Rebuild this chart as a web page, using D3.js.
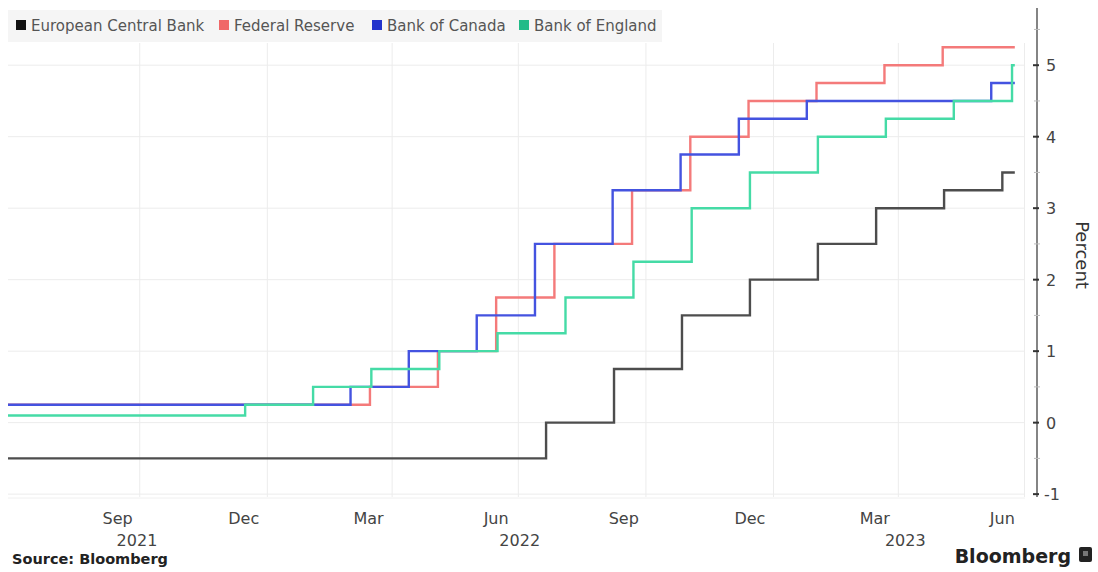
<!DOCTYPE html>
<html>
<head>
<meta charset="utf-8">
<script src="https://cdn.jsdelivr.net/npm/d3@7"></script>
<style>
  body { margin: 0; background: #fff; }
  svg text { font-family: "DejaVu Sans", sans-serif; }
</style>
</head>
<body>
<div class="main"></div>
<script>
//// Data (policy rates, percent) - dates of decisions and the new level
const endDate = '2023-06-24';
const ecbDates = ['2021-06-28', '2022-07-21', '2022-09-08', '2022-10-27', '2022-12-15', '2023-02-02', '2023-03-16', '2023-05-04', '2023-06-15', endDate];
const ecbRates = [-0.5, 0, 0.75, 1.5, 2.0, 2.5, 3.0, 3.25, 3.5, 3.5];
const fedDates = ['2021-06-28', '2022-03-16', '2022-05-04', '2022-06-15', '2022-07-27', '2022-09-21', '2022-11-02', '2022-12-14', '2023-02-01', '2023-03-22', '2023-05-03', endDate];
const fedRates = [0.25, 0.5, 1.0, 1.75, 2.5, 3.25, 4.0, 4.5, 4.75, 5.0, 5.25, 5.25];
const bocDates = ['2021-06-28', '2022-03-02', '2022-04-13', '2022-06-01', '2022-07-13', '2022-09-07', '2022-10-26', '2022-12-07', '2023-01-25', '2023-06-07', endDate];
const bocRates = [0.25, 0.5, 1.0, 1.5, 2.5, 3.25, 3.75, 4.25, 4.5, 4.75, 4.75];
const boeDates = ['2021-06-28', '2021-12-16', '2022-02-03', '2022-03-17', '2022-05-05', '2022-06-16', '2022-08-04', '2022-09-22', '2022-11-03', '2022-12-15', '2023-02-02', '2023-03-23', '2023-05-11', '2023-06-22', endDate];
const boeRates = [0.1, 0.25, 0.5, 0.75, 1.0, 1.25, 1.75, 2.25, 3.0, 3.5, 4.0, 4.25, 4.5, 5.0, 5.0];

const seriesNames = ['European Central Bank', 'Federal Reserve', 'Bank of Canada', 'Bank of England'];
const lineColors = ['#4d4d4d', '#f47a7a', '#4453e0', '#45dba6'];
const keyColors = ['#111111', '#f06868', '#2233cc', '#22bb88'];

const monthTicks = ['2021-09-15', '2021-12-15', '2022-03-15', '2022-06-15', '2022-09-15', '2022-12-15', '2023-03-15', '2023-06-15'];
const monthLabels = ['Sep', 'Dec', 'Mar', 'Jun', 'Sep', 'Dec', 'Mar', 'Jun'];
const yearTicks = ['2021-09-29', '2022-07-02', '2023-04-06'];
const yearLabels = ['2021', '2022', '2023'];
const gridDates = ['2021-10-01', '2022-01-01', '2022-04-01', '2022-07-01', '2022-10-01', '2023-01-01', '2023-04-01', '2023-07-01'];
const yTicks = [-1, 0, 1, 2, 3, 4, 5];
const yMinor = [-0.5, 0.5, 1.5, 2.5, 3.5, 4.5, 5.5];

////Globals
const width = 1098;
const height = 572;
const parse = d3.timeParse('%Y-%m-%d');
const plotLeft = 8;
const plotRight = 1037;
const plotTop = 8;
const plotBottom = 497;

const svg = d3.select('.main').append('svg')
  .attr('width', width)
  .attr('height', height);

const x = d3.scaleTime()
  .domain([parse('2021-06-28'), parse('2023-07-10')])
  .range([plotLeft, plotRight]);
const y = d3.scaleLinear()
  .domain([-1.04, 5.8])
  .range([plotBottom, plotTop]);

// gridlines
svg.append('g')
  .selectAll('line')
  .data(yTicks)
  .enter()
  .append('line')
  .attr('x1', plotLeft)
  .attr('x2', plotRight - 12)
  .attr('y1', d => y(d))
  .attr('y2', d => y(d))
  .attr('stroke', '#ececec')
  .attr('stroke-width', 1);

svg.append('g')
  .selectAll('line')
  .data(gridDates)
  .enter()
  .append('line')
  .attr('x1', d => x(parse(d)))
  .attr('x2', d => x(parse(d)))
  .attr('y1', plotTop + 35)
  .attr('y2', plotBottom)
  .attr('stroke', '#ececec')
  .attr('stroke-width', 1);

svg.append('line')
  .attr('x1', plotLeft)
  .attr('x2', plotRight - 12)
  .attr('y1', plotBottom + 1)
  .attr('y2', plotBottom + 1)
  .attr('stroke', '#f0f0f0');

// legend band
svg.append('rect')
  .attr('x', plotLeft)
  .attr('y', 10)
  .attr('width', 654)
  .attr('height', 32)
  .attr('fill', '#f5f5f5');

// lines
const allDates = [ecbDates, fedDates, bocDates, boeDates];
const allRates = [ecbRates, fedRates, bocRates, boeRates];
const line = d3.line()
  .x(d => x(d.date))
  .y(d => y(d.value))
  .curve(d3.curveStepAfter);

allDates.forEach((dates, i) => {
  const pts = dates.map((dt, j) => ({ date: parse(dt), value: allRates[i][j] }));
  svg.append('path')
    .datum(pts)
    .attr('fill', 'none')
    .attr('stroke', lineColors[i])
    .attr('stroke-width', 2.4)
    .attr('d', line);
});

// legend
const legendX = [16, 219, 372, 519];
const legend = svg.append('g');
seriesNames.forEach((name, i) => {
  legend.append('rect')
    .attr('x', legendX[i])
    .attr('y', 20)
    .attr('width', 10)
    .attr('height', 10)
    .attr('fill', keyColors[i]);
  legend.append('text')
    .attr('x', legendX[i] + 15)
    .attr('y', 30.5)
    .attr('font-size', 15)
    .attr('fill', '#555')
    .text(name);
});

// right axis
svg.append('line')
  .attr('x1', plotRight)
  .attr('x2', plotRight)
  .attr('y1', plotTop)
  .attr('y2', plotBottom)
  .attr('stroke', '#666')
  .attr('stroke-width', 1.6);

svg.append('g')
  .selectAll('line')
  .data(yMinor)
  .enter()
  .append('line')
  .attr('x1', plotRight - 3)
  .attr('x2', plotRight + 3)
  .attr('y1', d => y(d))
  .attr('y2', d => y(d))
  .attr('stroke', '#bbb');

const yAxis = svg.append('g');
yAxis.selectAll('line')
  .data(yTicks)
  .enter()
  .append('line')
  .attr('x1', plotRight - 4)
  .attr('x2', plotRight + 2)
  .attr('y1', d => y(d))
  .attr('y2', d => y(d))
  .attr('stroke', '#333')
  .attr('stroke-width', 2);
yAxis.selectAll('text')
  .data(yTicks)
  .enter()
  .append('text')
  .attr('x', d => d < 0 ? plotRight + 7 : plotRight + 9)
  .attr('y', d => y(d) + 6)
  .attr('font-size', 16)
  .attr('fill', '#444')
  .text(d => d);

svg.append('text')
  .attr('transform', 'translate(1076,255) rotate(90)')
  .attr('text-anchor', 'middle')
  .attr('font-size', 18)
  .attr('fill', '#333')
  .text('Percent');

// bottom axis labels
svg.append('g')
  .selectAll('text')
  .data(monthTicks)
  .enter()
  .append('text')
  .attr('x', d => x(parse(d)))
  .attr('y', 524)
  .attr('text-anchor', 'middle')
  .attr('font-size', 16)
  .attr('fill', '#444')
  .text((d, i) => monthLabels[i]);

svg.append('g')
  .selectAll('text')
  .data(yearTicks)
  .enter()
  .append('text')
  .attr('x', d => x(parse(d)))
  .attr('y', 546)
  .attr('text-anchor', 'middle')
  .attr('font-size', 16)
  .attr('fill', '#444')
  .text((d, i) => yearLabels[i]);

// footer
svg.append('text')
  .attr('x', 12)
  .attr('y', 564)
  .attr('font-size', 14.5)
  .attr('font-weight', 'bold')
  .attr('fill', '#222')
  .text('Source: Bloomberg');

svg.append('text')
  .attr('x', 1071)
  .attr('y', 563)
  .attr('text-anchor', 'end')
  .attr('font-size', 19)
  .attr('font-weight', 'bold')
  .attr('fill', '#222')
  .text('Bloomberg');

svg.append('rect')
  .attr('x', 1079)
  .attr('y', 547)
  .attr('width', 13)
  .attr('height', 15)
  .attr('rx', 2)
  .attr('fill', '#222');
svg.append('rect')
  .attr('x', 1083)
  .attr('y', 551)
  .attr('width', 5)
  .attr('height', 5)
  .attr('fill', '#777');
</script>
</body>
</html>
